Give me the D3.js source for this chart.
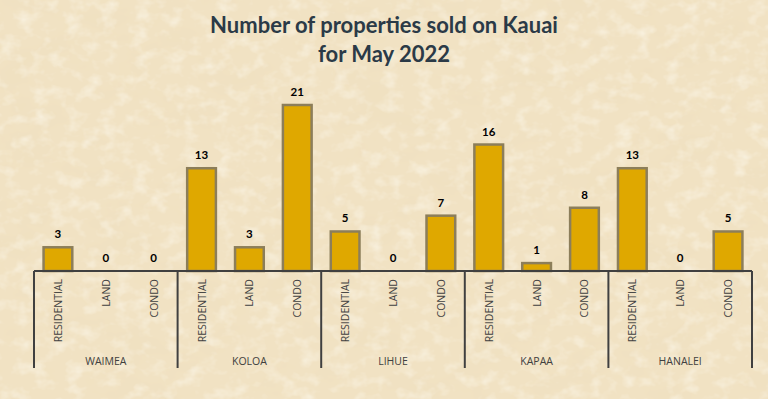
<!DOCTYPE html>
<html>
<head>
<meta charset="utf-8">
<script src="https://cdn.jsdelivr.net/npm/d3@7"></script>
<style>
  body { margin: 0; background: #f1e3c4; }
  svg { display: block; }
</style>
</head>
<body>
<div id="chart"></div>
<script>
// data
var regions = ["WAIMEA", "KOLOA", "LIHUE", "KAPAA", "HANALEI"];
var types = ["RESIDENTIAL", "LAND", "CONDO"];
var residential = [3, 13, 5, 16, 13];
var land = [0, 3, 0, 1, 0];
var condo = [0, 21, 7, 8, 5];

var W = 768, H = 399;
var margin = { top: 105, left: 34, right: 16, bottom: 128 };
var axisY = 271;

var svg = d3.select("#chart").append("svg")
  .attr("width", W)
  .attr("height", H);

// parchment background: darker mottling + lighter flecks
var defs = svg.append("defs");
var f = defs.append("filter").attr("id", "dark").attr("x", 0).attr("y", 0).attr("width", "100%").attr("height", "100%");
f.append("feTurbulence").attr("type", "fractalNoise").attr("baseFrequency", "0.02 0.03").attr("numOctaves", 4).attr("seed", 7).attr("result", "noise");
f.append("feColorMatrix").attr("in", "noise").attr("type", "matrix")
  .attr("values", "0 0 0 0 0.86  0 0 0 0 0.74  0 0 0 0 0.52  1.5 0 0 0 -0.68");

var f2 = defs.append("filter").attr("id", "light").attr("x", 0).attr("y", 0).attr("width", "100%").attr("height", "100%");
f2.append("feTurbulence").attr("type", "fractalNoise").attr("baseFrequency", "0.06 0.08").attr("numOctaves", 3).attr("seed", 3).attr("result", "noise");
f2.append("feColorMatrix").attr("in", "noise").attr("type", "matrix")
  .attr("values", "0 0 0 0 0.98  0 0 0 0 0.95  0 0 0 0 0.86  0 0 1.3 0 -0.62");

svg.append("rect").attr("width", W).attr("height", H).attr("fill", "#f1e2c3");
svg.append("rect").attr("width", W).attr("height", H).attr("filter", "url(#dark)");
svg.append("rect").attr("width", W).attr("height", H).attr("filter", "url(#light)");

// rows for each bar
var rows = [];
regions.forEach(function (r, i) {
  rows.push({ region: r, type: "RESIDENTIAL", value: residential[i] });
  rows.push({ region: r, type: "LAND", value: land[i] });
  rows.push({ region: r, type: "CONDO", value: condo[i] });
});

var x0 = d3.scaleBand().domain(regions).range([34, 752]);
var x1 = d3.scaleBand().domain(types).range([0, x0.bandwidth()]).paddingInner(0.4).paddingOuter(0.2);
var y = d3.scaleLinear().domain([0, 21]).range([axisY, margin.top]);

// title
var title = svg.append("text")
  .attr("text-anchor", "middle")
  .style("font-family", "Lato, 'Open Sans', sans-serif")
  .style("font-weight", "bold")
  .style("font-size", "22px")
  .style("fill", "#2b3a47");
title.append("tspan").attr("x", 384).attr("y", 33).text("Number of properties sold on Kauai");
title.append("tspan").attr("x", 384).attr("y", 62).text("for May 2022");

var g = svg.append("g");

// bars
g.selectAll(".bar")
  .data(rows)
  .enter()
  .append("rect")
  .attr("class", "bar")
  .attr("x", function (d) { return x0(d.region) + x1(d.type); })
  .attr("width", x1.bandwidth())
  .attr("y", function (d) { return y(d.value); })
  .attr("height", function (d) { return y(0) - y(d.value); })
  .style("fill", "#dfa800")
  .style("stroke", "#8c7e5a")
  .style("stroke-width", 2.5);

// value labels
g.selectAll(".val")
  .data(rows)
  .enter()
  .append("text")
  .attr("x", function (d) { return x0(d.region) + x1(d.type) + x1.bandwidth() / 2; })
  .attr("y", function (d) { return y(d.value) - 9; })
  .attr("text-anchor", "middle")
  .style("font-family", "Lato, 'Open Sans', sans-serif")
  .style("font-weight", "bold")
  .style("font-size", "11.5px")
  .style("fill", "#000")
  .text(function (d) { return d.value; });

// axis line and group separators
svg.append("line")
  .attr("x1", 34).attr("x2", 752)
  .attr("y1", axisY).attr("y2", axisY)
  .style("stroke", "#404040").style("stroke-width", 2);

var bounds = regions.map(function (r) { return x0(r); }).concat([x0.range()[1]]);
svg.selectAll(".sep")
  .data(bounds)
  .enter()
  .append("line")
  .attr("x1", function (d) { return d; })
  .attr("x2", function (d) { return d; })
  .attr("y1", axisY)
  .attr("y2", 368)
  .style("stroke", "#404040").style("stroke-width", 2);

// category labels
svg.selectAll(".cat")
  .data(rows)
  .enter()
  .append("text")
  .attr("transform", function (d) {
    var cx = x0(d.region) + x1(d.type) + x1.bandwidth() / 2 + 4;
    return "translate(" + cx + ",279) rotate(-90)";
  })
  .attr("text-anchor", "end")
  .style("font-family", "'Open Sans', sans-serif")
  .style("font-size", "10.5px")
  .style("fill", "#404040")
  .text(function (d) { return d.type; });

// region labels
svg.selectAll(".reg")
  .data(regions)
  .enter()
  .append("text")
  .attr("x", function (d) { return x0(d) + x0.bandwidth() / 2; })
  .attr("y", 365)
  .attr("text-anchor", "middle")
  .style("font-family", "'Open Sans', sans-serif")
  .style("font-size", "10.5px")
  .style("fill", "#404040")
  .text(function (d) { return d; });
</script>
</body>
</html>
